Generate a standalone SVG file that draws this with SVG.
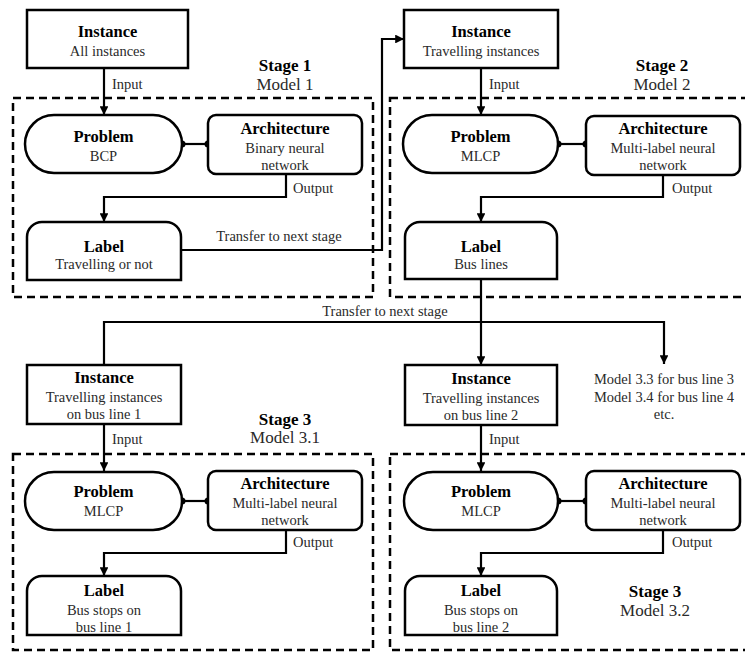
<svg xmlns="http://www.w3.org/2000/svg" width="745" height="652" viewBox="0 0 745 652">
<defs>
<marker id="arr" viewBox="0 0 10 10" refX="10" refY="5" markerWidth="4" markerHeight="4" orient="auto" markerUnits="strokeWidth">
<path d="M0,0 L10,5 L0,10 z" fill="#000"/>
</marker>
<style>
.box{fill:#fff;stroke:#000;stroke-width:2.5}
.stage{fill:none;stroke:#000;stroke-width:2.5;stroke-dasharray:8,5}
.con{fill:none;stroke:#000;stroke-width:2.2}
.arrow{marker-end:url(#arr)}
.dot{fill:#000}
.t,.b,.s,.m,.l{font-family:'Liberation Serif','Times New Roman',serif}
.t{font-weight:bold;font-size:16.5px;fill:#000;text-anchor:middle}
.b{font-size:14.5px;fill:#2a2a2a;text-anchor:middle}
.s{font-weight:bold;font-size:17px;fill:#000;text-anchor:middle}
.m{font-size:17px;fill:#2a2a2a;text-anchor:middle}
.l{font-size:14.5px;fill:#2a2a2a;text-anchor:start}
</style>
</defs>
<rect width="745" height="652" fill="#fff"/>

<g id="stages">
<rect class="stage" x="13" y="98" width="360" height="199"/>
<rect class="stage" x="390" y="98" width="362" height="199"/>
<rect class="stage" x="13" y="454" width="360" height="196"/>
<rect class="stage" x="390" y="454" width="362" height="196"/>
</g>

<g id="connectors">
<path class="con arrow" d="M104,68 V115"/>
<path class="con" d="M182,144 H208"/>
<circle class="dot" cx="182" cy="144" r="3.5"/>
<circle class="dot" cx="208" cy="144" r="3.5"/>
<path class="con arrow" d="M286,174 V197 H104 V222"/>
<path class="con arrow" d="M181,250 H382 V39 H404"/>
<path class="con arrow" d="M481,68 V115"/>
<path class="con" d="M558,144 H586"/>
<circle class="dot" cx="558" cy="144" r="3.5"/>
<circle class="dot" cx="586" cy="144" r="3.5"/>
<path class="con arrow" d="M663,175 V197 H481 V222"/>
<path class="con arrow" d="M481,279 V365"/>
<path class="con arrow" d="M104,365 V322 H664 V364"/>
<path class="con arrow" d="M104,424 V471"/>
<path class="con" d="M182,501 H208"/>
<circle class="dot" cx="182" cy="501" r="3.5"/>
<circle class="dot" cx="208" cy="501" r="3.5"/>
<path class="con arrow" d="M286,530 V553 H104 V576"/>
<path class="con arrow" d="M481,425 V471"/>
<path class="con" d="M558,501 H586"/>
<circle class="dot" cx="558" cy="501" r="3.5"/>
<circle class="dot" cx="586" cy="501" r="3.5"/>
<path class="con arrow" d="M663,530 V553 H481 V576"/>
</g>

<g id="connector-labels">
<text class="l" x="112" y="89">Input</text>
<text class="l" x="293" y="193">Output</text>
<text class="b" x="279" y="241">Transfer to next stage</text>
<text class="l" x="489" y="89">Input</text>
<text class="l" x="672" y="193">Output</text>
<text class="b" x="385" y="316">Transfer to next stage</text>
<text class="l" x="112" y="444">Input</text>
<text class="l" x="293" y="547">Output</text>
<text class="l" x="489" y="444">Input</text>
<text class="l" x="672" y="547">Output</text>
</g>

<g id="stage1-label"><text class="s" x="285" y="71">Stage 1</text><text class="m" x="285" y="90">Model 1</text></g>
<g id="stage2-label"><text class="s" x="662" y="71">Stage 2</text><text class="m" x="662" y="90">Model 2</text></g>
<g id="stage31-label"><text class="s" x="285" y="425">Stage 3</text><text class="m" x="285" y="443">Model 3.1</text></g>
<g id="stage32-label"><text class="s" x="655" y="597">Stage 3</text><text class="m" x="655" y="616">Model 3.2</text></g>

<g id="instance1">
<rect class="box" x="27" y="10" width="161" height="58"/>
<text class="t" x="107.5" y="37">Instance</text>
<text class="b" x="107.5" y="56">All instances</text>
</g>
<g id="problem1">
<rect class="box" x="25" y="115" width="157" height="58" rx="29"/>
<text class="t" x="103.5" y="142">Problem</text>
<text class="b" x="103.5" y="161">BCP</text>
</g>
<g id="architecture1">
<rect class="box" x="208" y="115" width="154" height="59" rx="8"/>
<text class="t" x="285" y="134">Architecture</text>
<text class="b" x="285" y="153">Binary neural</text>
<text class="b" x="285" y="170">network</text>
</g>
<g id="label1">
<path class="box" d="M27,280 V237 A15,15 0 0 1 42,222 H166 A15,15 0 0 1 181,237 V280 Z"/>
<text class="t" x="104" y="252">Label</text>
<text class="b" x="104" y="269">Travelling or not</text>
</g>

<g id="instance2">
<rect class="box" x="404" y="10" width="154" height="58"/>
<text class="t" x="481" y="37">Instance</text>
<text class="b" x="481" y="56">Travelling instances</text>
</g>
<g id="problem2">
<rect class="box" x="403" y="115" width="155" height="58" rx="29"/>
<text class="t" x="480.5" y="142">Problem</text>
<text class="b" x="480.5" y="161">MLCP</text>
</g>
<g id="architecture2">
<rect class="box" x="586" y="116" width="154" height="59" rx="8"/>
<text class="t" x="663" y="134">Architecture</text>
<text class="b" x="663" y="153">Multi-label neural</text>
<text class="b" x="663" y="170">network</text>
</g>
<g id="label2">
<path class="box" d="M405,279 V237 A15,15 0 0 1 420,222 H542 A15,15 0 0 1 557,237 V279 Z"/>
<text class="t" x="481" y="252">Label</text>
<text class="b" x="481" y="269">Bus lines</text>
</g>

<g id="instance3">
<rect class="box" x="27" y="365" width="154" height="59"/>
<text class="t" x="104" y="383">Instance</text>
<text class="b" x="104" y="402">Travelling instances</text>
<text class="b" x="104" y="419">on bus line 1</text>
</g>
<g id="problem3">
<rect class="box" x="25" y="472" width="157" height="58" rx="29"/>
<text class="t" x="103.5" y="497">Problem</text>
<text class="b" x="103.5" y="516">MLCP</text>
</g>
<g id="architecture3">
<rect class="box" x="208" y="471" width="154" height="59" rx="8"/>
<text class="t" x="285" y="489">Architecture</text>
<text class="b" x="285" y="508">Multi-label neural</text>
<text class="b" x="285" y="525">network</text>
</g>
<g id="label3">
<path class="box" d="M27,635 V591 A15,15 0 0 1 42,576 H166 A15,15 0 0 1 181,591 V635 Z"/>
<text class="t" x="104" y="596">Label</text>
<text class="b" x="104" y="615">Bus stops on</text>
<text class="b" x="104" y="632">bus line 1</text>
</g>

<g id="instance4">
<rect class="box" x="405" y="365" width="152" height="60"/>
<text class="t" x="481" y="384">Instance</text>
<text class="b" x="481" y="403">Travelling instances</text>
<text class="b" x="481" y="420">on bus line 2</text>
</g>
<g id="problem4">
<rect class="box" x="404" y="472" width="154" height="58" rx="29"/>
<text class="t" x="481" y="497">Problem</text>
<text class="b" x="481" y="516">MLCP</text>
</g>
<g id="architecture4">
<rect class="box" x="586" y="471" width="154" height="59" rx="8"/>
<text class="t" x="663" y="489">Architecture</text>
<text class="b" x="663" y="508">Multi-label neural</text>
<text class="b" x="663" y="525">network</text>
</g>
<g id="label4">
<path class="box" d="M405,635 V591 A15,15 0 0 1 420,576 H542 A15,15 0 0 1 557,591 V635 Z"/>
<text class="t" x="481" y="596">Label</text>
<text class="b" x="481" y="615">Bus stops on</text>
<text class="b" x="481" y="632">bus line 2</text>
</g>

<g id="more-models">
<text class="b" x="664" y="384">Model 3.3 for bus line 3</text>
<text class="b" x="664" y="402">Model 3.4 for bus line 4</text>
<text class="b" x="664" y="419">etc.</text>
</g>
</svg>
